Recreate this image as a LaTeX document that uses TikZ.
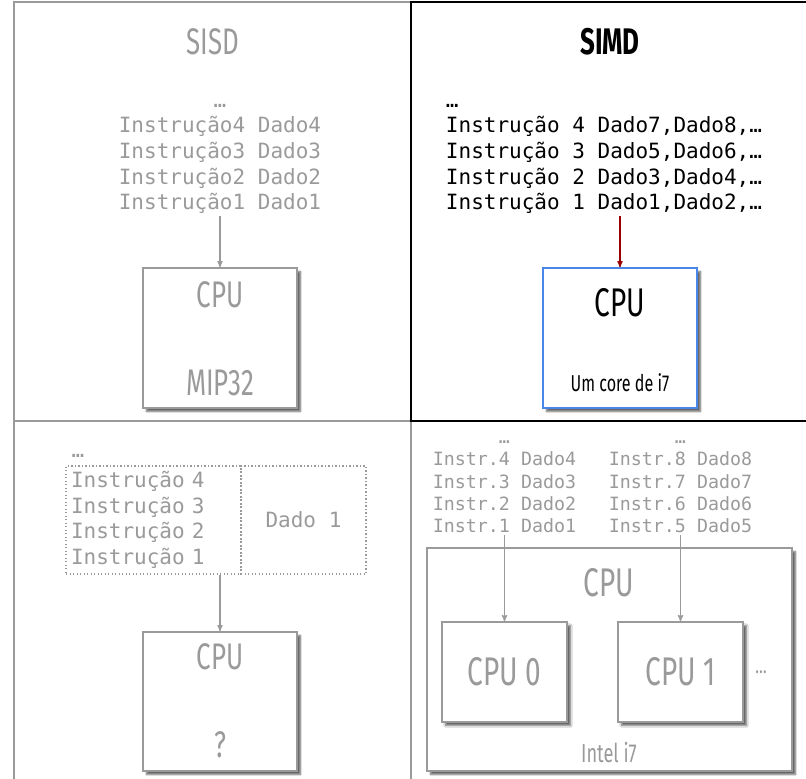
\documentclass[tikz,border=0pt]{standalone}
\usepackage{fontspec}
\setmonofont{DejaVu Sans Mono}
\newfontfamily\titfont[FakeStretch=0.7]{Fira Sans}
\usepackage{tikz}
\usetikzlibrary{arrows,shadows.blur}
\definecolor{grigio}{HTML}{9A9A9A}
\definecolor{azzurro}{HTML}{4A86E8}
\definecolor{rosso}{HTML}{990000}

\begin{document}
\begin{tikzpicture}[x=1pt,y=-1pt,>=stealth',
	scatola/.style={draw=grigio,fill=white,line width=1.6pt,inner sep=0pt,blur shadow={shadow xshift=3.5pt,shadow yshift=-3.5pt,shadow blur steps=6,shadow opacity=60}},
	mono/.style={font=\fontsize{21}{25.7}\selectfont\ttfamily,text=grigio,inner sep=2pt},
	piccolo/.style={font=\fontsize{18.3}{22.3}\selectfont\ttfamily,text=grigio,inner sep=2pt},
	titolo/.style={font=\fontsize{37}{42}\selectfont\titfont,text=grigio,inner sep=1pt},
	puntini/.style={draw=grigio,line width=1.3pt,dash pattern=on 1.3pt off 2.2pt},
	freccia/.style={->,draw=grigio,line width=1.2pt}]
	\useasboundingbox (0,0) rectangle (806,779);
	\clip (0,0) rectangle (806,779);
	\draw [grigio,line width=1.8pt] (14,800) -- (14,2) -- (411,2);
	\draw [grigio,line width=1.8pt] (14,421) -- (411,421) -- (411,800);
	\draw [black,line width=1.8pt] (411,2) rectangle (830,421);
	% SISD
	\node [titolo] (sisd) at (213,42) {SISD};
	\node [mono,align=center] (listaA) at (220,159) {…\\Instrução4 Dado4\\Instrução3 Dado3\\Instrução2 Dado2\\Instrução1 Dado1};
	\node [scatola,minimum width=154,minimum height=140] (cpuA) at (220,338) {};
	\node [titolo] at (220,295) {CPU};
	\node [titolo] at (220,383) {MIP32};
	\draw [freccia] (listaA.south) -- (cpuA.north);
	% SIMD
	\node [titolo,text=black,font=\fontsize{37}{42}\selectfont\titfont\bfseries] (simd) at (610,42) {SIMD};
	\node [mono,align=left,text=black] (listaB) at (604,159) {…\\Instrução 4 Dado7,Dado8,…\\Instrução 3 Dado5,Dado6,…\\Instrução 2 Dado3,Dado4,…\\Instrução 1 Dado1,Dado2,…};
	\node [scatola,draw=azzurro,minimum width=154,minimum height=140] (cpuB) at (620,338) {};
	\node [titolo,text=black,font=\fontsize{40}{44}\selectfont\titfont] at (620,303) {CPU};
	\node [titolo,text=black,font=\fontsize{23}{27}\selectfont\titfont] at (620,383) {Um core de i7};
	\draw [freccia,draw=rosso] (listaB.south -| cpuB.north) -- (cpuB.north);
	% MISD
	\node [mono,text=grigio] (puntiC) at (78,456) {…};
	\node [mono,puntini,text width=165,align=left,inner sep=5pt,minimum height=108] (istr) at (153.5,520) {Instrução 4\\Instrução 3\\Instrução 2\\Instrução 1};
	\node [mono,puntini,minimum width=125,minimum height=108] (dado) at (303.5,520) {Dado 1};
	\node [scatola,minimum width=154,minimum height=139] (cpuC) at (220,701.5) {};
	\node [titolo] at (220,657) {CPU};
	\node [titolo] at (220,745) {?};
	\draw [freccia] (istr.south -| cpuC.north) -- (cpuC.north);
	% MIMD
	\node [piccolo,align=center] (listaC) at (504.5,487) {…\\Instr.4 Dado4\\Instr.3 Dado3\\Instr.2 Dado2\\Instr.1 Dado1};
	\node [piccolo,align=center] (listaD) at (680.5,487) {…\\Instr.8 Dado8\\Instr.7 Dado7\\Instr.6 Dado6\\Instr.5 Dado5};
	\node [scatola,minimum width=365,minimum height=223] (cpuD) at (609.5,659.5) {};
	\node [titolo,font=\fontsize{40}{44}\selectfont\titfont] at (609,583) {CPU};
	\node [scatola,minimum width=125,minimum height=100,titolo,font=\fontsize{40}{44}\selectfont\titfont] (core0) at (504.5,672) {CPU 0};
	\node [scatola,minimum width=125,minimum height=100,titolo,font=\fontsize{40}{44}\selectfont\titfont] (core1) at (680.5,672) {CPU 1};
	\node [titolo,font=\fontsize{22}{26}\selectfont\titfont] at (761,672) {…};
	\node [titolo,font=\fontsize{26}{30}\selectfont\titfont] at (609,753) {Intel i7};
	\draw [freccia] (listaC.south) -- (core0.north);
	\draw [freccia] (listaD.south) -- (core1.north);
\end{tikzpicture}
\end{document}
